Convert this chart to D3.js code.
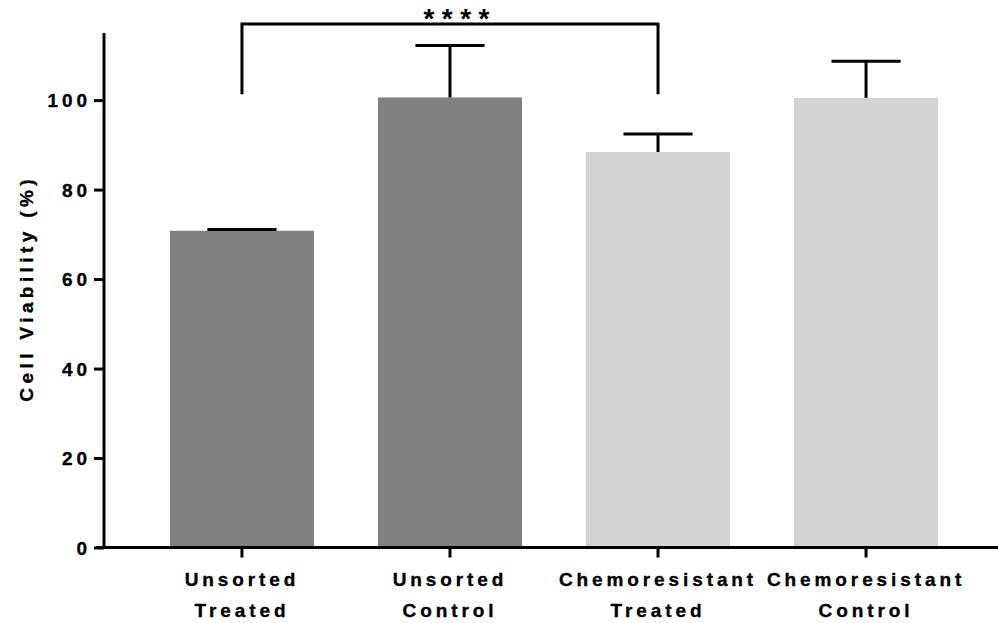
<!DOCTYPE html>
<html>
<head>
<meta charset="utf-8">
<script src="https://cdn.jsdelivr.net/npm/d3@7"></script>
<style>
  html, body { margin: 0; padding: 0; background: #fff; }
  svg { display: block; }
  text { font-family: "Liberation Sans", Arial, sans-serif; font-weight: bold; fill: #000; stroke: #000; stroke-width: 0.35px; }
</style>
</head>
<body>
<svg id="chart" width="998" height="623"></svg>
<script>
const categories = [["Unsorted", "Treated"], ["Unsorted", "Control"], ["Chemoresistant", "Treated"], ["Chemoresistant", "Control"]];
const means = [70.8, 100.6, 88.4, 100.5];
const errors = [0.3, 11.6, 4.0, 8.2];
const groupColors = ["#808080", "#808080", "#d3d3d3", "#d3d3d3"];
const yTicks = [0, 20, 40, 60, 80, 100];
const yTitle = "Cell Viability (%)";
const sigPair = [0, 2];
const sigLabel = "****";
const sigLevels = { top: 117, leg: 101.3 };

const svg = d3.select("#chart");
const LS = 3.9;
const FS = 19;

const x = d3.scaleBand()
  .domain(d3.range(categories.length))
  .range([104, 1004])
  .paddingInner(0.3077)
  .paddingOuter(0.317);

const y = d3.scaleLinear().domain([0, 115]).range([547.5, 33]);

// bars
svg.append("g").selectAll("rect").data(means).join("rect")
  .attr("x", (d, i) => x(i))
  .attr("width", x.bandwidth())
  .attr("y", d => y(d))
  .attr("height", d => y(0) - y(d))
  .attr("fill", (d, i) => groupColors[i]);

// error bars (upper)
const capW = x.bandwidth() * 0.48;
const eb = svg.append("g").attr("stroke", "#000").attr("stroke-width", 3);
means.forEach((m, i) => {
  const cx = x(i) + x.bandwidth() / 2;
  eb.append("line").attr("x1", cx).attr("x2", cx).attr("y1", y(m)).attr("y2", y(m + errors[i]));
  eb.append("line").attr("x1", cx - capW / 2).attr("x2", cx + capW / 2)
    .attr("y1", y(m + errors[i])).attr("y2", y(m + errors[i]));
});

// y axis
const yAxis = svg.append("g").attr("transform", "translate(104,0)")
  .call(d3.axisLeft(y).tickValues(yTicks).tickSize(10).tickPadding(7).tickSizeOuter(0));
yAxis.select(".domain").remove();
yAxis.selectAll(".tick line").attr("stroke", "#000").attr("stroke-width", 3);
yAxis.selectAll(".tick text")
  .attr("font-size", FS).attr("font-family", "Liberation Sans, Arial, sans-serif")
  .attr("font-weight", "bold").attr("fill", "#000")
  .style("letter-spacing", LS + "px").attr("dx", LS).attr("dy", "0.36em");
svg.append("line").attr("x1", 104).attr("x2", 104).attr("y1", y.range()[1]).attr("y2", y(0) + 1.5)
  .attr("stroke", "#000").attr("stroke-width", 3);

// x axis
const xAxis = svg.append("g").attr("transform", `translate(0,${y(0)})`)
  .call(d3.axisBottom(x).tickSize(10).tickFormat(""));
xAxis.select(".domain").remove();
xAxis.selectAll(".tick line").attr("stroke", "#000").attr("stroke-width", 3);
svg.append("line").attr("x1", 96).attr("x2", 998).attr("y1", y(0)).attr("y2", y(0))
  .attr("stroke", "#000").attr("stroke-width", 3);

// x labels
const lab = svg.append("g");
categories.forEach((c, i) => {
  const cx = x(i) + x.bandwidth() / 2;
  c.forEach((line, j) => {
    lab.append("text").attr("x", cx).attr("y", 586 + j * 31)
      .attr("text-anchor", "middle").attr("font-size", FS)
      .style("letter-spacing", LS + "px").text(line);
  });
});

// y title
svg.append("text")
  .attr("transform", `translate(33,${(y(0) + y.range()[1]) / 2}) rotate(-90)`)
  .attr("text-anchor", "middle").attr("font-size", FS)
  .attr("dx", LS / 2)
  .style("letter-spacing", "4.4px").text(yTitle);

// significance bracket
const x1 = x(sigPair[0]) + x.bandwidth() / 2, x2 = x(sigPair[1]) + x.bandwidth() / 2;
svg.append("path")
  .attr("d", `M${x1},${y(sigLevels.leg)}V${y(sigLevels.top)}H${x2}V${y(sigLevels.leg)}`)
  .attr("fill", "none").attr("stroke", "#000").attr("stroke-width", 3);
svg.append("text").attr("x", (x1 + x2) / 2 + 6.5 + 3.7).attr("y", 27.5)
  .attr("text-anchor", "middle").attr("font-size", 28).style("stroke-width", "0px")
  .style("letter-spacing", "7.4px").text(sigLabel);
</script>
</body>
</html>
